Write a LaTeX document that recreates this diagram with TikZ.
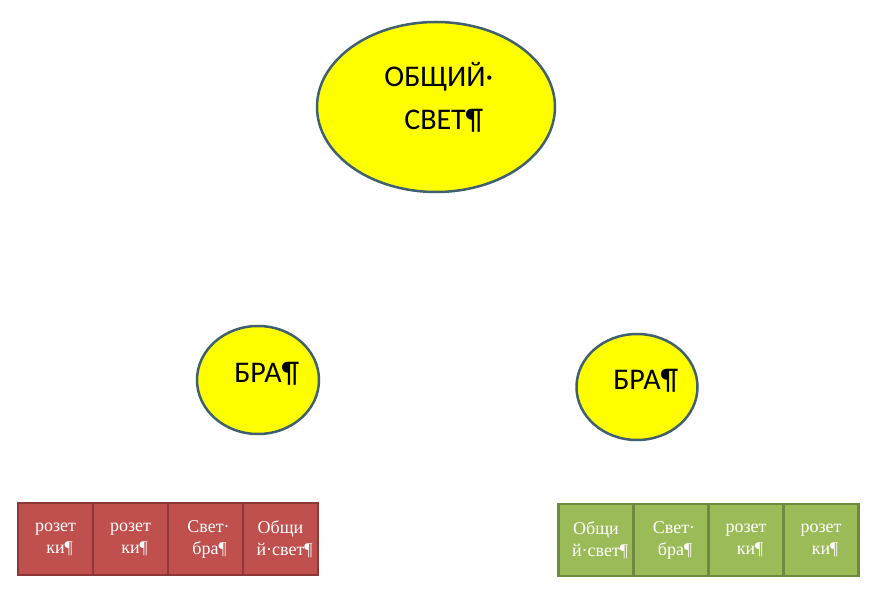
\documentclass[tikz,border=0pt]{standalone}
\usepackage{fontspec}
\setmainfont{Carlito}
\newfontfamily\serifbox{Liberation Serif}
\usetikzlibrary{shapes.geometric}
\definecolor{bubline}{HTML}{41606F}
\definecolor{bubfill}{HTML}{FFFF00}
\definecolor{redfill}{HTML}{C0504D}
\definecolor{redline}{HTML}{8C3836}
\definecolor{greenfill}{HTML}{9BBB59}
\definecolor{greenline}{HTML}{71893F}
\tikzset{
  bub/.style={ellipse, draw=bubline, line width=2.5pt, fill=bubfill, inner sep=0pt},
  bubtext/.style={font=\fontsize{30}{43}\selectfont, align=center, inner sep=0pt},
  cellbase/.style={rectangle, line width=2.5pt, minimum width=75pt, minimum height=72pt, inner sep=0pt,
    font=\serifbox\fontsize{18}{22}\selectfont, text=white, align=center},
  cellr/.style={cellbase, draw=redline, fill=redfill},
  cellg/.style={cellbase, draw=greenline, fill=greenfill},
}
\begin{document}
\begin{tikzpicture}[x=1pt,y=-1pt]
\useasboundingbox (0,0) rectangle (876,612);
% top ellipse
\node[bub, minimum width=238pt, minimum height=170pt] (top) at (436,107) {};
\node[bubtext] (toptext) at (435,97) {ОБЩИЙ\rlap{·}\\СВЕТ\rlap{¶}};
% left circle
\node[bub, minimum width=122pt, minimum height=108pt] (left) at (258,380) {};
\node[bubtext] (lefttext) at (258,374) {БРА\rlap{¶}};
% right circle
\node[bub, minimum width=121pt, minimum height=106pt] (right) at (637,387) {};
\node[bubtext] (righttext) at (637,381) {БРА\rlap{¶}};
% left row of cells
\node[cellr] (l1) at (55.5,539) {розет\\ки\rlap{¶}};
\node[cellr] (l2) at (130.5,539) {розет\\ки\rlap{¶}};
\node[cellr] (l3) at (205.5,539) {Свет\rlap{·}\\бра\rlap{¶}};
\node[cellr] (l4) at (280.5,539) {Общи\\й·свет\rlap{¶}};
% right row of cells
\node[cellg] (r1) at (596,540) {Общи\\й·свет\rlap{¶}};
\node[cellg] (r2) at (671,540) {Свет\rlap{·}\\бра\rlap{¶}};
\node[cellg] (r3) at (746,540) {розет\\ки\rlap{¶}};
\node[cellg] (r4) at (821,540) {розет\\ки\rlap{¶}};
\end{tikzpicture}
\end{document}
